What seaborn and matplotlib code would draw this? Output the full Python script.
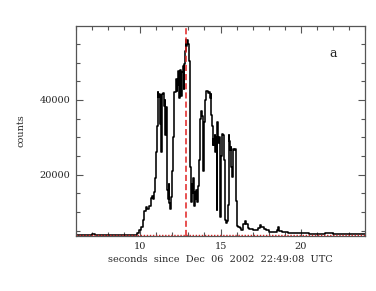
import numpy as np
import pandas as pd
import matplotlib
matplotlib.use("Agg")
import matplotlib.pyplot as plt
from matplotlib.ticker import MultipleLocator
import seaborn as sns

# light curve (step plot, bin start time in s, counts)
times = [6.0, 6.6, 7.0, 7.2, 7.8, 8.6, 9.2, 9.6, 9.8, 9.95,
         10.05, 10.15, 10.25, 10.35, 10.45, 10.55, 10.65, 10.72, 10.8, 10.86,
         10.92, 10.98, 11.03, 11.08, 11.13, 11.18, 11.22, 11.27, 11.32, 11.36,
         11.42, 11.47, 11.52, 11.56, 11.60, 11.64, 11.68, 11.72, 11.77, 11.82,
         11.88, 11.93, 11.98, 12.03, 12.08, 12.13, 12.2, 12.26, 12.32, 12.38,
         12.43, 12.48, 12.53, 12.58, 12.64, 12.70, 12.74, 12.79, 12.84, 12.88,
         12.92, 12.98, 13.03, 13.07, 13.11, 13.15, 13.2, 13.25, 13.3, 13.34,
         13.38, 13.44, 13.5, 13.55, 13.6, 13.64, 13.70, 13.76, 13.82, 13.88,
         13.94, 13.97, 14.02, 14.07, 14.14, 14.2, 14.26, 14.32, 14.38, 14.43,
         14.47, 14.52, 14.56, 14.6, 14.64, 14.68, 14.72, 14.76, 14.80, 14.85,
         14.90, 14.95, 15.00, 15.04, 15.09, 15.16, 15.22, 15.27, 15.32, 15.38,
         15.45, 15.5, 15.55, 15.6, 15.64, 15.68, 15.73, 15.78, 15.84, 15.9,
         15.96, 16.02, 16.1, 16.2, 16.3, 16.4, 16.5, 16.6, 16.7, 16.8,
         16.9, 17.0, 17.2, 17.35, 17.45, 17.55, 17.7, 17.8, 18.0, 18.3,
         18.5, 18.57, 18.65, 18.8, 19.2, 19.8, 20.5, 21.0, 21.5, 22.0,
         22.5, 23.0, 23.5, 24.0]
counts = [3900, 4000, 4100, 3950, 3850, 3900, 3850, 4000, 4500, 5200,
          6000, 7800, 10200, 11400, 10900, 11700, 13800, 14400, 13400, 15500,
          19000, 26000, 33000, 42000, 40800, 41500, 33500, 41200, 26000, 41600,
          41800, 38500, 40000, 30500, 38000, 24000, 16000, 13500, 17500, 12500,
          10800, 14000, 21000, 30000, 38000, 42000, 45500, 42500, 44000, 47800,
          40500, 48000, 41000, 47500, 49000, 43000, 49500, 53000, 56000, 54500,
          56000, 55000, 50500, 37000, 22000, 12800, 17500, 15000, 19000, 11500,
          15500, 13500, 16000, 12800, 17000, 24000, 35000, 37000, 35800, 33000,
          21000, 34000, 40000, 42500, 42300, 41800, 42000, 40500, 41500, 36000,
          33000, 28000, 29500, 28000, 30500, 26000, 30000, 10500, 34000, 28500,
          30000, 8800, 13000, 25000, 31000, 30500, 24000, 8000, 7000, 7500,
          12000, 30500, 29000, 26500, 27500, 22000, 19500, 27000, 26500, 27000,
          13000, 6200, 6000, 5700, 5200, 6900, 7500, 6800, 5800, 5500,
          5400, 5300, 5300, 5800, 6600, 6000, 5600, 5100, 4800, 4800,
          5300, 5900, 5000, 4600, 4400, 4350, 4250, 4200, 4300, 4250,
          4150, 4100, 4150, 4100]

peak_time = 12.85
background = 3750
xlabel = "seconds  since  Dec  06  2002  22:49:08  UTC"

df = pd.DataFrame({"t": times, "counts": counts})

sns.set_style("ticks")
plt.rcParams["font.family"] = ["DejaVu Serif"]

fig = plt.figure(figsize=(3.76, 2.91), dpi=100)
ax = fig.add_axes([0.202, 0.189, 0.769, 0.722])

sns.lineplot(data=df, x="t", y="counts", ax=ax, color="black", lw=1.15,
             drawstyle="steps-post", estimator=None, sort=False)
ax.axvline(peak_time, color="#e02020", ls=(0, (4, 2)), lw=1.1)
ax.axhline(background, color="#e02020", ls=(0, (1, 1.2)), lw=1.0)

ax.set_xlim(6, 24)
ax.set_ylim(3600, 59800)
ax.xaxis.set_major_locator(MultipleLocator(5))
ax.xaxis.set_minor_locator(MultipleLocator(1))
ax.yaxis.set_major_locator(MultipleLocator(20000))
ax.yaxis.set_minor_locator(MultipleLocator(5000))
ax.tick_params(which="both", direction="in", top=True, right=True,
               color="#555555", labelsize=7, pad=4)
ax.tick_params(which="major", length=5, width=0.8)
ax.tick_params(which="minor", length=3, width=0.8)
for s in ax.spines.values():
    s.set_color("#555555")
    s.set_linewidth(0.9)

ax.set_xlabel(xlabel, fontsize=7, labelpad=3)
ax.set_ylabel("counts", fontsize=7, labelpad=10)
ax.text(0.889, 0.87, "a", transform=ax.transAxes, fontsize=9,
        ha="center", va="center")

fig.savefig("out.png", dpi=100)
